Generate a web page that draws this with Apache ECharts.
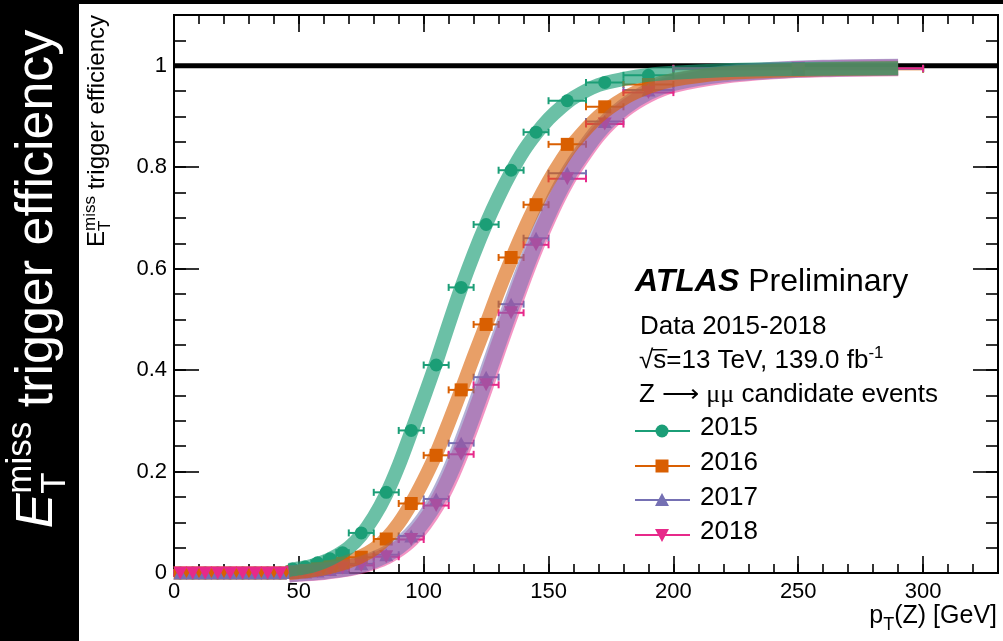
<!DOCTYPE html>
<html><head><meta charset="utf-8">
<script src="https://cdn.jsdelivr.net/npm/echarts@6/dist/echarts.min.js"></script>
<style>html,body{margin:0;padding:0;background:#fff}#c{width:1003px;height:641px}</style>
</head><body><div id="c"></div>
<script>
// ---------------- data ----------------
const binCenters = [2.5,7.5,12.5,17.5,22.5,27.5,32.5,37.5,42.5,47.5,52.5,57.5,62.5,67.5,75,85,95,105,115,125,135,145,157.5,172.5,190,250];
const binHalfWidths = [2.5,2.5,2.5,2.5,2.5,2.5,2.5,2.5,2.5,2.5,2.5,2.5,2.5,2.5,5,5,5,5,5,5,5,5,7.5,7.5,10,50];
const eff2015 = [0,0,0,0,0,0,0,0,0,0.008,0.012,0.020,0.028,0.040,0.079,0.159,0.281,0.410,0.563,0.687,0.794,0.869,0.931,0.967,0.981,0.994];
const eff2016 = [0,0,0,0,0,0,0,0,0,0.002,0.005,0.008,0.012,0.019,0.031,0.067,0.137,0.232,0.361,0.490,0.622,0.726,0.845,0.919,0.963,0.993];
const eff2017 = [0,0,0,0,0,0,0,0,0,0.001,0.002,0.004,0.007,0.011,0.018,0.036,0.073,0.146,0.256,0.386,0.530,0.660,0.788,0.890,0.952,0.994];
const eff2018 = [0,0,0,0,0,0,0,0,0,0.001,0.002,0.003,0.006,0.010,0.015,0.032,0.066,0.133,0.234,0.371,0.513,0.647,0.777,0.885,0.947,0.995];

const fitX    = [46,50,55,60,65,70,75,80,85,90,95,100,105,110,115,120,125,130,135,140,145,150,155,160,170,180,190,200,220,240,260,290];
const fit2015 = [0.006,0.009,0.014,0.022,0.034,0.050,0.075,0.110,0.155,0.212,0.278,0.345,0.415,0.490,0.562,0.628,0.688,0.742,0.790,0.832,0.866,0.895,0.918,0.937,0.962,0.974,0.982,0.986,0.991,0.993,0.994,0.995];
const fit2016 = [0.000,0.002,0.005,0.009,0.015,0.023,0.033,0.047,0.068,0.098,0.137,0.183,0.235,0.296,0.360,0.426,0.490,0.556,0.617,0.674,0.726,0.772,0.812,0.847,0.900,0.935,0.958,0.972,0.985,0.990,0.993,0.995];
const fit2017 = [-0.002,0.000,0.002,0.004,0.007,0.011,0.017,0.026,0.037,0.053,0.075,0.105,0.143,0.193,0.252,0.318,0.387,0.458,0.527,0.594,0.656,0.712,0.762,0.804,0.872,0.918,0.949,0.967,0.984,0.991,0.995,0.997];
const fit2018 = [-0.002,0.000,0.001,0.003,0.006,0.010,0.015,0.023,0.033,0.048,0.068,0.097,0.134,0.182,0.240,0.305,0.374,0.446,0.515,0.583,0.646,0.703,0.754,0.797,0.866,0.913,0.944,0.963,0.981,0.990,0.994,0.996];

const unityX = [0, 330];
const xTickLabels = ['0','50','100','150','200','250','300'];
const yTickLabels = ['0','0.2','0.4','0.6','0.8','1'];
const years = ['2015','2016','2017','2018'];

// ---------------- style ----------------
const C = {'2015':'#1b9e77','2016':'#d95f02','2017':'#7570b3','2018':'#e7298a'};
const SANS = '"Liberation Sans", Arial, sans-serif';
const SERIF = '"Liberation Serif", "DejaVu Serif", serif';
const ctx = document.createElement('canvas').getContext('2d');
function fontStr(size, italic, bold, family){ return (italic?'italic ':'')+(bold?'bold ':'')+size+'px '+(family||SANS); }
function tw(t,f){ ctx.font=f; return ctx.measureText(t).width; }
function run(pieces, color){
  let x=0, lastStart=0; const els=[];
  pieces.forEach(p=>{
    const f=fontStr(p.size,p.italic,p.bold,p.family);
    const w=tw(p.t,f);
    const px = p.stack ? lastStart : x;
    const base = (p.dy||0);
    els.push({type:'text', x:px, y:base-0.3465*p.size, silent:true,
      style:{text:p.t, font:f, fill:color, align:'left', verticalAlign:'middle'}});
    if(p.overline){
      els.push({type:'line', silent:true, shape:{x1:px-1,y1:base-0.78*p.size,x2:px+w+1,y2:base-0.78*p.size}, style:{stroke:color,lineWidth:1.5}});
    }
    if(p.stack){ x=Math.max(x,px+w); } else { lastStart=x; x=x+w; }
  });
  return {els, width:x};
}
function textGroup(pieces, color, x, y, opts){
  opts=opts||{};
  const r=run(pieces,color);
  let gx=x, gy=y;
  if(opts.rotate){
    if(opts.anchor==='end') gy = y + r.width;
    else if(opts.anchor==='center') gy = y + r.width/2;
    return {type:'group', x:gx, y:gy, rotation:Math.PI/2, children:r.els, silent:true};
  }
  if(opts.anchor==='end') gx = x - r.width;
  return {type:'group', x:gx, y:gy, children:r.els, silent:true};
}

// ---------------- series builders ----------------
function pts(vals){ return binCenters.map((x,i)=>[x,vals[i]]); }
function errs(vals){ return binCenters.map((x,i)=>[x-binHalfWidths[i], x+binHalfWidths[i], vals[i]]); }
function errSeries(vals,color){
  return {type:'custom', coordinateSystem:'cartesian2d', xAxisIndex:0, yAxisIndex:0, z:2, silent:true,
    data:errs(vals), encode:{x:[0,1], y:2},
    renderItem:(params,api)=>{
      const y=api.value(2), a=api.coord([api.value(0),y]), b=api.coord([api.value(1),y]), h=3.5;
      const st={stroke:color,lineWidth:2};
      return {type:'group', children:[
        {type:'line', shape:{x1:a[0],y1:a[1],x2:b[0],y2:b[1]}, style:st},
        {type:'line', shape:{x1:a[0],y1:a[1]-h,x2:a[0],y2:a[1]+h}, style:st},
        {type:'line', shape:{x1:b[0],y1:b[1]-h,x2:b[0],y2:b[1]+h}, style:st}]};
    }};
}
function markSeries(name, vals, color, symbol, size, rot){
  return {name, type:'scatter', xAxisIndex:0, yAxisIndex:0, z:2, silent:true, data:pts(vals),
    symbol, symbolSize:size, symbolRotate:rot||0, itemStyle:{color, opacity:1}};
}
function bandSeries(vals, color, width, opacity){
  return {type:'line', xAxisIndex:0, yAxisIndex:0, z:3, silent:true, clip:false, smooth:0.3,
    symbol:'none', showSymbol:false, data:fitX.map((x,i)=>[x,vals[i]]),
    lineStyle:{color, width, opacity, cap:'butt', join:'round'}};
}

// ---------------- axes ----------------
const TICKC = {color:'#000', width:1.6};
function xAx(pos, interval, len, labels){
  return {type:'value', min:0, max:330, interval, position:pos, offset:0,
    axisLine:{show:false, onZero:false}, splitLine:{show:false}, minorTick:{show:false},
    axisTick:{show:true, inside:true, length:len, lineStyle:TICKC},
    axisLabel: labels ? {show:true, fontSize:22, color:'#000', fontFamily:SANS, margin:8,
      formatter:(v)=>{ const i=Math.round(v/50); return (Math.abs(v-i*50)<1e-6 && i<xTickLabels.length)? xTickLabels[i] : ''; }} : {show:false}};
}
function yAx(pos, interval, len, labels){
  return {type:'value', min:0, max:1.1, interval, position:pos, offset:0,
    axisLine:{show:false, onZero:false}, splitLine:{show:false}, minorTick:{show:false},
    axisTick:{show:true, inside:true, length:len, lineStyle:TICKC},
    axisLabel: labels ? {show:true, fontSize:22, color:'#000', fontFamily:SANS, margin:7,
      formatter:(v)=>{ const i=Math.round(v/0.2); return (Math.abs(v-i*0.2)<1e-6 && i<yTickLabels.length)? yTickLabels[i] : ''; }} : {show:false}};
}

// ---------------- graphics (texts, legend) ----------------
const graphics = [
  {type:'rect', shape:{x:0,y:0,width:79,height:641}, style:{fill:'#000'}, silent:true},
  {type:'rect', shape:{x:0,y:0,width:1003,height:4}, style:{fill:'#000'}, silent:true},
  textGroup([{t:'E',size:52,italic:true},{t:'T',size:35,dy:11},{t:'miss',size:35,dy:-23,stack:true},{t:' trigger efficiency',size:52}], '#fff', 56, 279, {rotate:true, anchor:'center'}),
  textGroup([{t:'E',size:24},{t:'T',size:17,dy:5},{t:'miss',size:17,dy:-10,stack:true},{t:' trigger efficiency',size:24}], '#000', 106, 15, {rotate:true, anchor:'end'}),
  textGroup([{t:'p',size:25},{t:'T',size:18,dy:6},{t:'(Z) [GeV]',size:25}], '#000', 997, 625, {anchor:'end'}),
  textGroup([{t:'ATLAS',size:32,bold:true,italic:true},{t:' Preliminary',size:32}], '#000', 635, 293),
  textGroup([{t:'Data 2015-2018',size:26}], '#000', 640, 336),
  textGroup([{t:'√',size:26},{t:'s',size:26,overline:true},{t:'=13 TeV, 139.0 fb',size:26},{t:'-1',size:17,dy:-11}], '#000', 639, 370),
  textGroup([{t:'Z ⟶ ',size:26},{t:'μμ',size:26,family:SERIF},{t:' candidate events',size:26}], '#000', 639, 404)
];
const legY = [431, 466, 500, 535];
const legBase = [437, 472, 507, 541];
years.forEach((yr,i)=>{
  const col=C[yr], cy=legY[i];
  graphics.push({type:'line', silent:true, shape:{x1:635,y1:cy,x2:690,y2:cy}, style:{stroke:col,lineWidth:2}});
  if(i===0) graphics.push({type:'circle', silent:true, shape:{cx:662,cy,r:6.5}, style:{fill:col}});
  if(i===1) graphics.push({type:'rect', silent:true, shape:{x:655.5,y:cy-6.5,width:13,height:13}, style:{fill:col}});
  if(i===2) graphics.push({type:'polygon', silent:true, shape:{points:[[662,cy-7],[669,cy+6],[655,cy+6]]}, style:{fill:col}});
  if(i===3) graphics.push({type:'polygon', silent:true, shape:{points:[[662,cy+7],[669,cy-6],[655,cy-6]]}, style:{fill:col}});
  graphics.push(textGroup([{t:yr,size:26}], '#000', 700, legBase[i]));
});

// ---------------- chart ----------------
const chart = echarts.init(document.getElementById('c'), null, {renderer:'canvas'});
chart.setOption({
  animation:false,
  backgroundColor:'#fff',
  grid:{left:174, top:15, width:824, height:558, show:true, borderColor:'#000', borderWidth:2, backgroundColor:'transparent', containLabel:false, outerBoundsMode:'none'},
  xAxis:[xAx('bottom',50,17,true), xAx('bottom',10,9,false), xAx('top',50,17,false), xAx('top',10,9,false)],
  yAxis:[yAx('left',0.2,25,true), yAx('left',0.05,12,false), yAx('right',0.2,25,false), yAx('right',0.05,12,false)],
  graphic:graphics,
  series:[
    {type:'line', xAxisIndex:0, yAxisIndex:0, z:1, silent:true, symbol:'none', data:unityX.map(x=>[x,1]), lineStyle:{color:'#000', width:5}},
    errSeries(eff2015,C['2015']), markSeries('2015',eff2015,C['2015'],'circle',13),
    errSeries(eff2016,C['2016']), markSeries('2016',eff2016,C['2016'],'rect',13),
    errSeries(eff2017,C['2017']), markSeries('2017',eff2017,C['2017'],'triangle',[14,13]),
    errSeries(eff2018,C['2018']), markSeries('2018',eff2018,C['2018'],'triangle',[14,13],180),
    bandSeries(fit2018,C['2018'],17,0.5),
    bandSeries(fit2017,C['2017'],17,0.55),
    bandSeries(fit2016,C['2016'],14,0.6),
    bandSeries(fit2015,C['2015'],14,0.65)
  ]
});
</script></body></html>
